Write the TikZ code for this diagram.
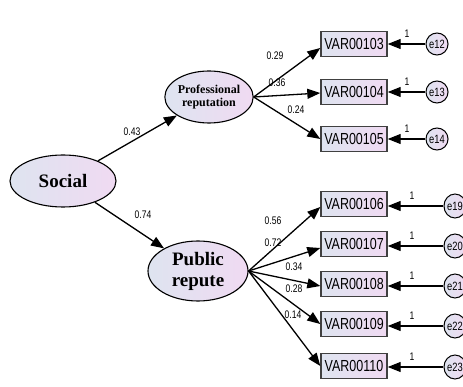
\documentclass[tikz,border=0pt]{standalone}
\usepackage{fontspec}
\setmainfont{Liberation Serif}
\newfontfamily\narrowsans[FakeStretch=0.78]{Liberation Sans}
\usetikzlibrary{arrows.meta,shapes.geometric}
\definecolor{fillL}{RGB}{222,228,240}
\definecolor{fillR}{RGB}{240,218,242}
\tikzset{
  latent/.style={ellipse, draw=black, line width=1.1pt, inner sep=0pt,
    left color=fillL, right color=fillR, align=center,
    font=\fontsize{19}{21}\selectfont\bfseries},
  observed/.style={rectangle, draw=black!75, line width=1.4pt, inner sep=0pt,
    minimum width=66pt, minimum height=25pt,
    left color=fillL, right color=fillR,
    font=\narrowsans\fontsize{16}{16}\selectfont},
  errnode/.style={ellipse, draw=black, line width=1pt, inner sep=0pt,
    left color=fillL, right color=fillR,
    font=\narrowsans\fontsize{12}{12}\selectfont},
  coef/.style={font=\narrowsans\fontsize{11}{11}\selectfont, inner sep=0pt},
  path/.style={draw=black, line width=1.3pt, -{Triangle[length=13pt,width=10pt]}},
  errpath/.style={draw=black, line width=1.2pt, -{Triangle[length=13pt,width=10pt]}}
}
\begin{document}
\begin{tikzpicture}[x=1pt,y=-1pt]
\useasboundingbox (0,0) rectangle (463,387);

% latent factors
\node[latent, minimum width=106pt, minimum height=52pt] (social) at (63,181) {Social};
\node[latent, minimum width=86pt, minimum height=52pt,
      font=\fontsize{12}{13}\selectfont\bfseries] (prof) at (209,97) {Professional\\reputation};
\node[latent, minimum width=100pt, minimum height=60pt] (public) at (198,271) {Public\\repute};

% observed indicators
\foreach \name/\y in {103/44,104/92,105/139,106/204,107/244,108/284,109/324,110/366}
  \node[observed] (v\name) at (354,\y) {VAR00\name};

% error terms of the professional indicators
\foreach \y/\lab in {44/e12,92/e13,139/e14}
  \node[errnode, minimum width=18pt, minimum height=22pt] (\lab) at (437,\y) {\lab};
% error terms of the public indicators
\foreach \y/\lab in {206/e19,246/e20,286/e21,326/e22,367/e23}
  \node[errnode, minimum width=22pt, minimum height=24pt] (\lab) at (455,\y) {\lab};

% structural paths
\draw[path] (social) -- (prof);
\draw[path] (social) -- (public);
\node[coef] (c43) at (132,132) {0.43};
\node[coef] (c74) at (143,215) {0.74};

% loadings of professional reputation
\draw[path] (prof.east) -- ([yshift=-4pt]v103.west);
\draw[path] (prof.east) -- ([yshift=-1pt]v104.west);
\draw[path] (prof.east) -- (v105.west);
\node[coef] (c29) at (275,56) {0.29};
\node[coef] (c36) at (277,83) {0.36};
\node[coef] (c24) at (296,110) {0.24};

% loadings of public repute
\draw[path] (public.east) -- ([yshift=-3pt]v106.west);
\draw[path] (public.east) -- ([yshift=-4pt]v107.west);
\draw[path] (public.east) -- ([yshift=-2pt]v108.west);
\draw[path] (public.east) -- (v109.west);
\draw[path] (public.east) -- (v110.west);
\node[coef] (c56) at (273,221) {0.56};
\node[coef] (c72) at (273,243) {0.72};
\node[coef] (c34) at (294,267) {0.34};
\node[coef] (c28) at (294,289) {0.28};
\node[coef] (c14) at (293,315) {0.14};

% error paths, each fixed to 1
\foreach \name/\lab in {103/e12,104/e13,105/e14}
  \draw[errpath] (\lab) -- (v\name);
\node[coef] (o12) at (407,34) {1};
\node[coef] (o13) at (407,82) {1};
\node[coef] (o14) at (407,129) {1};
\foreach \name/\lab in {106/e19,107/e20,108/e21,109/e22,110/e23}
  \draw[errpath] (\lab.west) -- (v\name.east |- \lab.west);
\node[coef] (o19) at (412,196) {1};
\node[coef] (o20) at (412,236) {1};
\node[coef] (o21) at (412,276) {1};
\node[coef] (o22) at (412,316) {1};
\node[coef] (o23) at (412,357) {1};
\end{tikzpicture}
\end{document}
